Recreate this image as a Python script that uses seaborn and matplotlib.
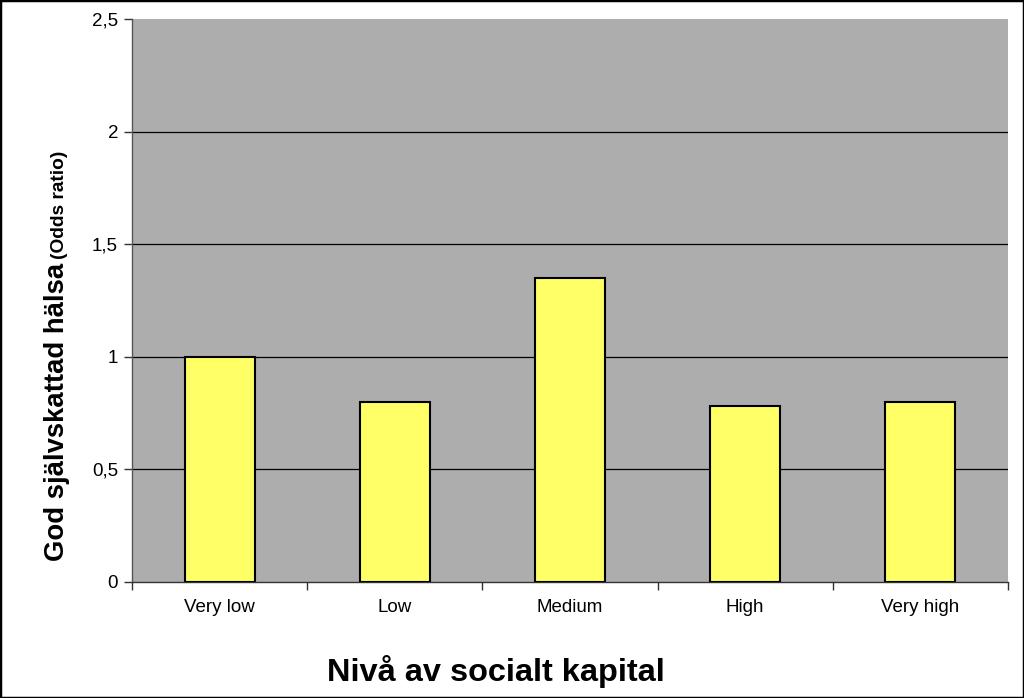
import matplotlib
matplotlib.use("Agg")
import matplotlib.pyplot as plt
import seaborn as sns
import numpy as np
import pandas as pd
from matplotlib.patches import Rectangle

categories = ["Very low", "Low", "Medium", "High", "Very high"]
odds_ratio = [1.0, 0.80, 1.35, 0.78, 0.80]
y_ticks = [0, 0.5, 1, 1.5, 2, 2.5]
y_tick_labels = ["0", "0,5", "1", "1,5", "2", "2,5"]

sns.set_style("white")
plt.rcParams['font.family'] = ['Liberation Sans', 'DejaVu Sans']
plt.rcParams['text.color'] = 'black'
plt.rcParams['xtick.color'] = 'black'
plt.rcParams['ytick.color'] = 'black'

df = pd.DataFrame({"cat": categories, "val": odds_ratio})

fig = plt.figure(figsize=(10.24, 6.98), dpi=100)
ax = fig.add_axes([132/1024, 1 - 582/698, (1008-132)/1024, (582-19)/698])
ax.set_facecolor('#ADADAD')

sns.barplot(data=df, x="cat", y="val", color='#FFFF66', saturation=1,
            edgecolor='black', linewidth=1.5, width=0.4, ax=ax, zorder=3)

ax.set_ylim(0, 2.5)
ax.set_xlim(-0.5, len(categories) - 0.5)
ax.set_yticks(y_ticks)
ax.set_yticklabels(y_tick_labels, fontsize=13.5)
ax.yaxis.grid(True, color='black', linewidth=0.9)
ax.set_axisbelow(True)
gl = ax.yaxis.get_gridlines()
gl[0].set_visible(False)
gl[-1].set_visible(False)

# x: major ticks at boundaries, labels at centres
ax.set_xticks(np.arange(-0.5, len(categories), 1.0))
ax.set_xticklabels([])
ax.set_xticks(np.arange(len(categories)), minor=True)
ax.set_xticklabels(categories, minor=True, fontsize=13.5)
ax.tick_params(axis='x', which='minor', length=0, pad=12)
ax.tick_params(axis='x', which='major', length=6, width=1, color='#333333', direction='out')
ax.tick_params(axis='y', length=6, width=1, color='#333333', direction='out', pad=4)
ax.tick_params(bottom=True, left=True)

for s in ['top', 'right']:
    ax.spines[s].set_visible(False)
ax.spines['left'].set_color('#555555')
ax.spines['bottom'].set_color('#333333')
ax.spines['left'].set_linewidth(1)
ax.spines['bottom'].set_linewidth(1)

ax.set_xlabel("")
ax.set_ylabel("")

fig.text(496/1024, 1 - 672/698, "Nivå av socialt kapital", ha='center', va='center',
         fontsize=23.4, fontweight='bold')

# y label with two font sizes, sharing a baseline
base_x = 64 / 1024
t1 = fig.text(base_x, 1 - 561/698, "God självskattad hälsa", rotation=90,
              rotation_mode='anchor', ha='left', va='baseline',
              fontsize=19.8, fontweight='bold')
fig.canvas.draw()
bb = t1.get_window_extent(renderer=fig.canvas.get_renderer())
top_px = bb.y1
fig.text(base_x, (top_px + 4) / fig.bbox.height, "(Odds ratio)", rotation=90,
         rotation_mode='anchor', ha='left', va='baseline',
         fontsize=13.8, fontweight='bold')

# figure border
fig.patches.append(Rectangle((0, 0), 1, 1, transform=fig.transFigure, fill=False,
                             edgecolor='black', linewidth=2.5))

fig.savefig("out.png", dpi=100)
